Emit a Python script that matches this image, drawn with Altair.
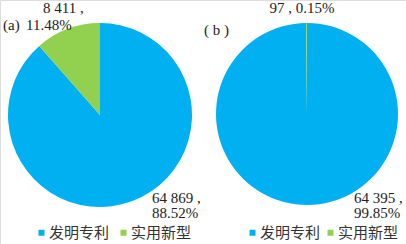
import altair as alt
import pandas as pd

categories = ["发明专利", "实用新型"]
counts_a = [64869, 8411]
counts_b = [64395, 97]
pct_a = ["88.52%", "11.48%"]
pct_b = ["99.85%", "0.15%"]
colors = ["#00B0F0", "#92D050"]
panel_tags = ["(a)", "( b )"]


def fmt(v):
    return f"{v:,}".replace(",", " ")


def pie(counts, cx, cy, r, lx, ly, colpad):
    df = pd.DataFrame({"cat": categories, "n": counts, "order": [0, 1]})
    return alt.Chart(df).mark_arc(stroke=None).encode(
        theta=alt.Theta("n:Q", stack=True),
        order=alt.Order("order:Q"),
        color=alt.Color(
            "cat:N",
            scale=alt.Scale(domain=categories, range=colors),
            legend=alt.Legend(
                orient="none", legendX=lx, legendY=ly, direction="horizontal",
                title=None, symbolType="square", symbolSize=36,
                symbolStrokeWidth=0, labelFont="Noto Sans CJK SC",
                labelFontSize=15, labelColor="#333333", columnPadding=colpad,
                labelOffset=0, padding=0,
            ),
        ),
        x=alt.value(cx), y=alt.value(cy), radius=alt.value(r),
    )


def txt(s, x, y, align="left"):
    return alt.Chart(pd.DataFrame({"t": [s]})).mark_text(
        font="Liberation Serif", fontSize=15, color="#222222",
        align=align, baseline="alphabetic", lineHeight=15, lineBreak="\n",
    ).encode(text="t:N", x=alt.value(x), y=alt.value(y))


layers = [
    pie(counts_a, 100, 115, 92, 34, 225, 6),
    pie(counts_b, 307, 114, 91, 245, 225, 2),
    txt(fmt(counts_a[1]) + " ,", 43, 13),
    txt(panel_tags[0], 3, 30),
    txt(pct_a[1], 26, 30),
    txt(fmt(counts_a[0]) + " ,\n" + pct_a[0], 152, 203),
    txt(f"{counts_b[1]} , {pct_b[1]}", 302, 13, "center"),
    txt(panel_tags[1], 204, 35),
    txt(fmt(counts_b[0]) + " ,\n" + pct_b[0], 354, 203),
]

chart = alt.layer(*layers).resolve_scale(
    color="independent", theta="independent"
).properties(
    width=406, height=244, padding=0, autosize=alt.AutoSizeParams(type="none")
).configure_view(stroke=None).configure(background="white")

chart.save("out.html", embed_options={"renderer": "svg", "actions": False})
